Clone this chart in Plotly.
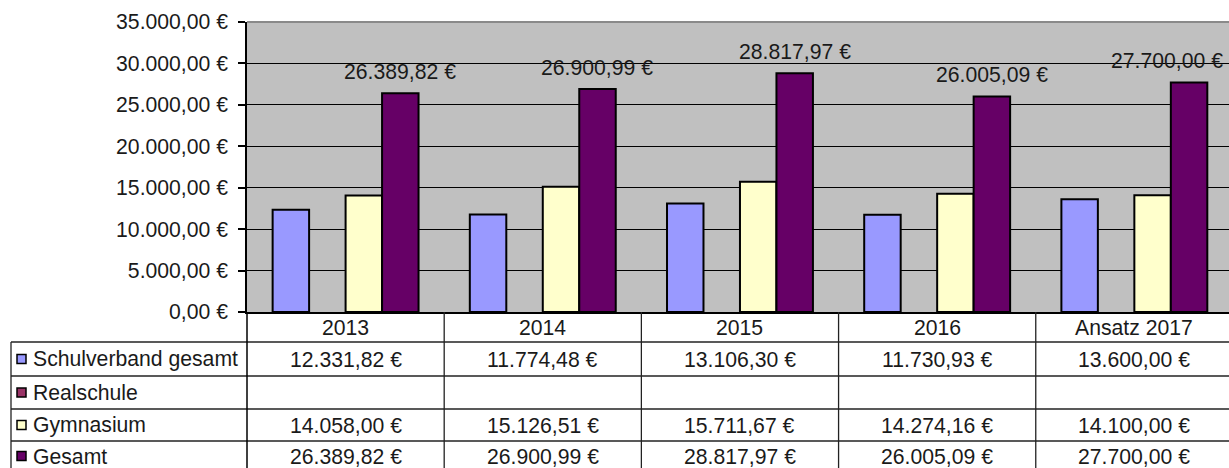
import plotly.graph_objects as go

# ---------------- data ----------------
categories = ["2013", "2014", "2015", "2016", "Ansatz 2017"]
schulverband = [12331.82, 11774.48, 13106.30, 11730.93, 13600.00]
realschule = [None, None, None, None, None]
gymnasium = [14058.00, 15126.51, 15711.67, 14274.16, 14100.00]
gesamt = [26389.82, 26900.99, 28817.97, 26005.09, 27700.00]
series_names = ["Schulverband gesamt", "Realschule", "Gymnasium", "Gesamt"]
y_ticks = [0, 5000, 10000, 15000, 20000, 25000, 30000, 35000]


def fmt(v):
    if v is None:
        return ""
    s = f"{v:,.2f}"
    s = s.replace(",", "X").replace(".", ",").replace("X", ".")
    return s + " €"


# ---------------- style / layout ----------------
W, H = 1229, 468
L, T, B = 247, 22, 312           # plot area pixel edges
PW, PH = W - L, B - T
FONT = "Liberation Sans, Arial, sans-serif"
FS = 21.2
TXT = "#1a1a1a"
colors = ["#9999FF", "#993366", "#FFFFCC", "#660066"]
xrange_ = [-0.5, 4.48]
bargap = 0.26


def yp(py):
    return (B - py) / PH


def xp(px):
    return (px - L) / PW


fig = go.Figure()
all_series = [schulverband, realschule, gymnasium, gesamt]
for name, vals, col in zip(series_names, all_series, colors):
    fig.add_trace(go.Bar(
        x=categories, y=vals, name=name,
        marker=dict(color=col, line=dict(color="black", width=2)),
        showlegend=False, hoverinfo="skip",
    ))

# value labels above Gesamt bars
group_px = PW / (xrange_[1] - xrange_[0])
bar_px = group_px * (1 - bargap) / 4
annotations = []
for i, v in enumerate(gesamt):
    cx = L + (i - xrange_[0]) * group_px + 1.5 * bar_px
    shift = 1.5 * bar_px
    max_cx = W - 62
    if cx > max_cx:
        shift -= (cx - max_cx)
    annotations.append(dict(
        x=i, y=v, xref="x", yref="y", text=fmt(v), showarrow=False,
        xshift=shift, yshift=22, yanchor="middle",
        font=dict(family=FONT, size=FS, color=TXT),
    ))

# data table: header row and series rows
row_lines = [342, 376, 409, 441]
row_centers = [359, 392.5, 425, 456]
for i, c in enumerate(categories):
    annotations.append(dict(
        x=i, y=yp(327), xref="x", yref="paper", text=c, showarrow=False,
        yanchor="middle", font=dict(family=FONT, size=FS, color=TXT),
    ))
shapes = []
for r, (name, vals, col) in enumerate(zip(series_names, all_series, colors)):
    annotations.append(dict(
        x=xp(31), y=yp(row_centers[r]), xref="paper", yref="paper", text=name,
        showarrow=False, xanchor="left", yanchor="middle",
        font=dict(family=FONT, size=FS, color=TXT),
    ))
    shapes.append(dict(
        type="rect", xref="paper", yref="paper",
        x0=xp(17), x1=xp(26), y0=yp(row_centers[r] - 4.5), y1=yp(row_centers[r] + 4.5),
        fillcolor=col, line=dict(color="black", width=1.5), layer="above",
    ))
    for i, v in enumerate(vals):
        if v is None:
            continue
        annotations.append(dict(
            x=i, y=yp(row_centers[r]), xref="x", yref="paper", text=fmt(v),
            showarrow=False, yanchor="middle",
            font=dict(family=FONT, size=FS, color=TXT),
        ))

LC = "#222222"
# horizontal table lines
for py in row_lines:
    shapes.append(dict(type="line", xref="paper", yref="paper",
                       x0=xp(11), x1=1.01, y0=yp(py), y1=yp(py),
                       line=dict(color=LC, width=1.3), layer="above"))
# vertical lines between categories
for k in range(len(categories) - 1):
    shapes.append(dict(type="line", xref="x", yref="paper",
                       x0=k + 0.5, x1=k + 0.5, y0=0, y1=yp(H + 5),
                       line=dict(color=LC, width=1.3), layer="above"))
# y axis line extension and left table border
shapes.append(dict(type="line", xref="paper", yref="paper",
                   x0=0, x1=0, y0=0, y1=yp(H + 5),
                   line=dict(color="black", width=1.5), layer="above"))
shapes.append(dict(type="line", xref="paper", yref="paper",
                   x0=xp(11), x1=xp(11), y0=yp(342), y1=yp(H + 5),
                   line=dict(color=LC, width=1.3), layer="above"))
# top border of plot area (gray)
shapes.append(dict(type="line", xref="paper", yref="paper",
                   x0=0, x1=1, y0=1, y1=1,
                   line=dict(color="#8a8a8a", width=2), layer="above"))

fig.update_layout(
    width=W, height=H,
    margin=dict(l=L, r=0, t=T, b=H - B, pad=0),
    paper_bgcolor="white", plot_bgcolor="#C0C0C0",
    barmode="group", bargap=bargap, bargroupgap=0,
    font=dict(family=FONT, size=FS, color=TXT),
    annotations=annotations, shapes=shapes,
)
fig.update_xaxes(
    type="category", range=xrange_, showticklabels=False, ticks="",
    showgrid=False, showline=True, linecolor="black", linewidth=1.5,
    zeroline=False, fixedrange=True,
)
fig.update_yaxes(
    range=[0, 35000], tickvals=y_ticks, ticktext=[fmt(v) for v in y_ticks],
    ticks="outside", ticklen=7, tickcolor="black", tickwidth=1.5,
    ticklabelstandoff=6,
    showgrid=True, gridcolor="black", gridwidth=1,
    showline=True, linecolor="black", linewidth=1.5,
    zeroline=False, tickfont=dict(family=FONT, size=FS, color=TXT),
    fixedrange=True,
)

fig.write_html("out.html")
